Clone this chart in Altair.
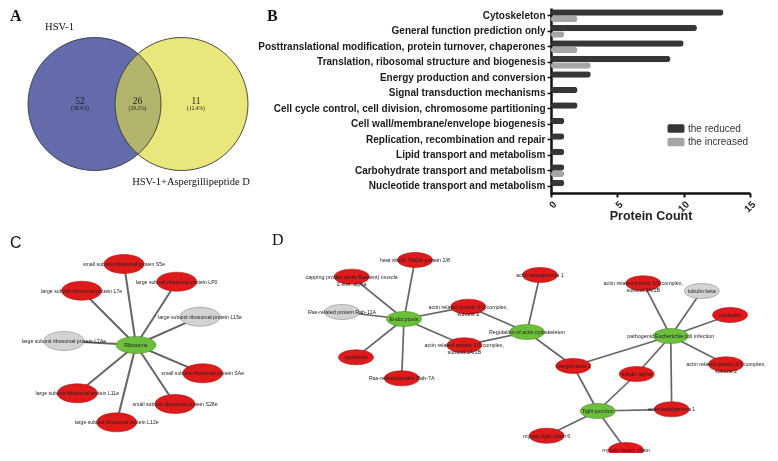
import altair as alt
import pandas as pd

# ================= DATA =================
# Panel A: Venn diagram
venn_sets = ["HSV-1", "HSV-1+Aspergillipeptide D"]
venn_counts = ["52", "26", "11"]
venn_pcts = ["(58.4%)", "(29.2%)", "(12.4%)"]

# Panel B: COG categories
cog_categories = [
    "Cytoskeleton",
    "General function prediction only",
    "Posttranslational modification, protein turnover, chaperones",
    "Translation, ribosomal structure and biogenesis",
    "Energy production and conversion",
    "Signal transduction mechanisms",
    "Cell cycle control, cell division, chromosome partitioning",
    "Cell wall/membrane/envelope biogenesis",
    "Replication, recombination and repair",
    "Lipid transport and metabolism",
    "Carbohydrate transport and metabolism",
    "Nucleotide transport and metabolism",
]
reduced_counts = [13, 11, 10, 9, 3, 2, 2, 1, 1, 1, 1, 1]
increased_counts = [2, 1, 2, 3, 0, 0, 0, 0, 0, 0, 1, 0]
series_names = ["the reduced", "the increased"]
count_ticks = [0, 5, 10, 15]

# Panel C: ribosome network
c_names = [
    "Ribosome",
    "small subunit ribosomal protein S5e",
    "large subunit ribosomal protein LP0",
    "large subunit ribosomal protein L7e",
    "large subunit ribosomal protein L15e",
    "large subunit ribosomal protein L7Ae",
    "small subunit ribosomal protein SAe",
    "large subunit ribosomal protein L11e",
    "small subunit ribosomal protein S28e",
    "large subunit ribosomal protein L12e",
]
c_kind = ["pathway", "reduced", "reduced", "reduced", "increased", "increased",
          "reduced", "reduced", "reduced", "reduced"]
c_edges = [(0, 1), (0, 2), (0, 3), (0, 4), (0, 5), (0, 6), (0, 7), (0, 8), (0, 9)]

# Panel D: pathway network
d_names = [
    "Endocytosis",
    "heat shock 70kDa protein 1/8",
    "capping protein (actin filament) muscle\nZ-line, alpha",
    "Ras-related protein Rab-11A",
    "actin related protein 2/3 complex,\nsubunit 2",
    "actin related protein 2/3 complex,\nsubunit 1A/1B",
    "cytohesin",
    "Ras-related protein Rab-7A",
    "Regulation of actin cytoskeleton",
    "actin beta/gamma 1",
    "actin related protein 2/3 complex,\nsubunit 1A/1B",
    "tubulin beta",
    "nucleolin",
    "pathogenic Escherichia coli infection",
    "actin related protein 2/3 complex,\nsubunit 2",
    "integrin beta 1",
    "tubulin alpha",
    "actin beta/gamma 1",
    "Tight junction",
    "myosin light chain 6",
    "myosin heavy chain",
]
d_kind = ["pathway", "reduced", "reduced", "increased", "reduced", "reduced", "reduced",
          "reduced", "pathway", "reduced", "reduced", "increased", "reduced", "pathway",
          "reduced", "reduced", "reduced", "reduced", "pathway", "reduced", "reduced"]
d_edges = [(0, 1), (0, 2), (0, 3), (0, 4), (0, 5), (0, 6), (0, 7),
           (8, 4), (8, 5), (8, 9), (8, 15),
           (13, 10), (13, 11), (13, 12), (13, 14), (13, 15), (13, 16), (13, 17),
           (18, 15), (18, 16), (18, 17), (18, 19), (18, 20)]

# ================= LAYOUT (reference pixel positions) =================
venn_cx = [94.5, 181.5]
venn_cy = [104, 104]
venn_diam = 133
venn_set_label_x = [59.5, 191]
venn_set_label_y = [27, 182]
venn_region_x = [80, 137.5, 196]
venn_count_y = 100.5
venn_pct_y = 108

c_x = [136, 124, 176.7, 81.7, 200, 64, 202.7, 77.3, 175, 116.7]
c_y = [345, 264, 281.7, 290.7, 316.7, 341, 373.3, 393.3, 404, 422.3]

d_x = [404, 415, 351.7, 342, 468.3, 464.3, 356, 401.7, 527, 540, 643.3, 701.7, 730,
       670.7, 726, 573.3, 636.7, 671.7, 597.7, 546.7, 626]
d_y = [319, 260, 276.7, 312, 306.7, 345.3, 357.3, 378.3, 332, 275, 283.3, 291, 315,
       336, 364.3, 366, 374, 409.3, 411, 435.7, 450]

panel_letters = ["A", "B", "C", "D"]
panel_letter_x = [10, 267, 10, 272]
panel_letter_y = [16, 16, 243, 240]
panel_letter_font = ["Liberation Serif", "Liberation Serif", "Liberation Sans", "Liberation Serif"]

bar_axis_x0, bar_axis_x1 = 551, 750   # x positions of 0 and 15
bar_axis_top, bar_axis_bottom = 8, 193
legend_swatch_x = 676
legend_text_x = 688
legend_y = [128.5, 142]

# ================= STYLE =================
W, H = 762, 445
OX, OY = 8, 8
XS = alt.Scale(domain=[OX, OX + W], range=[0, W], nice=False, zero=False)
YS = alt.Scale(domain=[OY, OY + H], range=[0, H], nice=False, zero=False)

BLUE = "#636bab"
YELLOW = "#e8e67b"
RED = "#de1a1a"
GREEN = "#6cbf3a"
GREY = "#d3d3d3"
DARK_BAR = "#363636"
LIGHT_BAR = "#a6a6a6"
KIND_FILL = {"pathway": GREEN, "reduced": RED, "increased": GREY}
KIND_STROKE = {"pathway": "#4d8f2a", "reduced": "#a81515", "increased": "#8a8a8a"}


def ellipse(ry):
    k = 0.5523
    return (f"M-1,0C-1,{-ry*k:.3f} {-k:.3f},{-ry} 0,{-ry}"
            f"C{k:.3f},{-ry} 1,{-ry*k:.3f} 1,0"
            f"C1,{ry*k:.3f} {k:.3f},{ry} 0,{ry}"
            f"C{-k:.3f},{ry} -1,{ry*k:.3f} -1,0Z")


def X(f="x"):
    return alt.X(f"{f}:Q", scale=XS, axis=None)


def Y(f="y"):
    return alt.Y(f"{f}:Q", scale=YS, axis=None)


layers = []

# ---------- Panel A ----------
circ = pd.DataFrame({"set": venn_sets, "x": venn_cx, "y": venn_cy, "fill": [BLUE, YELLOW]})
csize = venn_diam ** 2
layers.append(
    alt.Chart(circ.iloc[[0]]).mark_point(shape="circle", filled=True, opacity=1,
                                          size=csize, strokeWidth=0)
    .encode(x=X(), y=Y(), fill=alt.Fill("fill:N", scale=None))
)
layers.append(
    alt.Chart(circ.iloc[[1]]).mark_point(shape="circle", filled=True, opacity=1,
                                          size=csize, strokeWidth=0, blend="multiply")
    .encode(x=X(), y=Y(), fill=alt.Fill("fill:N", scale=None))
)
layers.append(
    alt.Chart(circ.iloc[[1]]).mark_point(shape="circle", filled=True, opacity=0.62,
                                          size=csize, strokeWidth=0)
    .encode(x=X(), y=Y(), fill=alt.Fill("fill:N", scale=None))
)
layers.append(
    alt.Chart(circ).mark_point(shape="circle", filled=False, opacity=1, size=csize,
                               color="#3a3a3a", strokeWidth=0.9)
    .encode(x=X(), y=Y())
)
set_lbl = pd.DataFrame({"t": venn_sets, "x": venn_set_label_x, "y": venn_set_label_y})
layers.append(
    alt.Chart(set_lbl).mark_text(font="Liberation Serif", fontSize=10.5, color="#111")
    .encode(x=X(), y=Y(), text="t:N")
)
reg = pd.DataFrame({"c": venn_counts, "p": venn_pcts, "x": venn_region_x,
                    "yc": [venn_count_y] * 3, "yp": [venn_pct_y] * 3})
layers.append(
    alt.Chart(reg).mark_text(font="Liberation Serif", fontSize=9.5, color="#222")
    .encode(x=X(), y=Y("yc"), text="c:N")
)
layers.append(
    alt.Chart(reg).mark_text(font="Liberation Serif", fontSize=5.5, color="#222")
    .encode(x=X(), y=Y("yp"), text="p:N")
)

# ---------- Panel letters ----------
for t, x, y, f in zip(panel_letters, panel_letter_x, panel_letter_y, panel_letter_font):
    layers.append(
        alt.Chart(pd.DataFrame({"t": [t], "x": [x], "y": [y]}))
        .mark_text(font=f, fontSize=16, fontWeight="bold" if t in "AB" else "normal",
                   align="left", color="#111")
        .encode(x=X(), y=Y(), text="t:N")
    )

# ---------- Legend for Panel B (manual) ----------
leg = pd.DataFrame({"s": series_names, "x": [legend_swatch_x] * 2, "tx": [legend_text_x] * 2,
                    "y": legend_y, "fill": [DARK_BAR, LIGHT_BAR]})
rrect = ("M-0.78,-0.5H0.78C0.92,-0.5 1,-0.4 1,-0.28V0.28C1,0.4 0.92,0.5 0.78,0.5"
         "H-0.78C-0.92,0.5 -1,0.4 -1,0.28V-0.28C-1,-0.4 -0.92,-0.5 -0.78,-0.5Z")
layers.append(
    alt.Chart(leg).mark_point(shape=rrect, filled=True, opacity=1, size=17 ** 2, strokeWidth=0)
    .encode(x=X(), y=Y(), fill=alt.Fill("fill:N", scale=None))
)
layers.append(
    alt.Chart(leg).mark_text(font="Liberation Sans", fontSize=10, align="left", color="#333")
    .encode(x=X("tx"), y=Y(), text="s:N")
)


# ---------- Networks C and D ----------
def network(names, kinds, xs, ys, edges, ry, size, green_ry, font_size, edge_w):
    nodes = pd.DataFrame({"name": names, "kind": kinds, "x": xs, "y": ys})
    nodes["fill"] = nodes["kind"].map(KIND_FILL)
    nodes["stroke"] = nodes["kind"].map(KIND_STROKE)
    nodes["shape"] = [ellipse(green_ry if k == "pathway" else ry) for k in kinds]
    e = pd.DataFrame({
        "x": [xs[a] for a, b in edges], "y": [ys[a] for a, b in edges],
        "x2": [xs[b] for a, b in edges], "y2": [ys[b] for a, b in edges],
    })
    out = [
        alt.Chart(e).mark_rule(color="#666666", strokeWidth=edge_w)
        .encode(x=X(), y=Y(), x2=alt.X2("x2:Q"), y2=alt.Y2("y2:Q")),
        alt.Chart(nodes).mark_point(filled=True, opacity=1, size=size, strokeWidth=0.6)
        .encode(x=X(), y=Y(), fill=alt.Fill("fill:N", scale=None),
                stroke=alt.Stroke("stroke:N", scale=None),
                shape=alt.Shape("shape:N", scale=None)),
        alt.Chart(nodes).mark_text(font="Liberation Sans", fontSize=font_size, color="#222",
                                   lineBreak="\n", lineHeight=font_size + 1.8)
        .encode(x=X(), y=Y(), text="name:N"),
    ]
    return out


layers += network(c_names, c_kind, c_x, c_y, c_edges, ry=0.475, size=40 ** 2,
                  green_ry=0.425, font_size=5.2, edge_w=2.0)
layers += network(d_names, d_kind, d_x, d_y, d_edges, ry=0.43, size=35 ** 2,
                  green_ry=0.43, font_size=5.4, edge_w=1.7)

pixel_layer = alt.layer(*layers)

# ---------- Panel B bar chart ----------
rows = []
for cat, r, i in zip(cog_categories, reduced_counts, increased_counts):
    rows.append({"category": cat, "series": series_names[0], "count": r})
    rows.append({"category": cat, "series": series_names[1], "count": i})
bar_df = pd.DataFrame(rows)

bars = alt.Chart(bar_df).mark_bar(cornerRadius=3).encode(
    x=alt.X(
        "count:Q",
        scale=alt.Scale(domain=[0, 15], range=[bar_axis_x0 - OX, bar_axis_x1 - OX], nice=False),
        axis=alt.Axis(
            orient="bottom", offset=-(H - (bar_axis_bottom - OY)), values=count_ticks,
            labelAngle=-45, labelFont="Liberation Sans", labelFontWeight="bold",
            labelFontSize=10, labelColor="#222", tickSize=4, tickWidth=2, tickColor="#111",
            domainColor="#111", domainWidth=2.5, grid=False,
            titleFont="Liberation Sans", titleFontSize=12.5, titleFontWeight="bold",
            titleColor="#222", titleY=16, titleBaseline="top",
        ),
        title="Protein Count",
    ),
    y=alt.Y(
        "category:N", sort=cog_categories,
        scale=alt.Scale(range=[bar_axis_top - OY, bar_axis_bottom + 1 - OY],
                        paddingInner=0.15, paddingOuter=0.075),
        axis=alt.Axis(
            orient="left", offset=-(bar_axis_x0 - OX), labelLimit=500,
            labelFont="Liberation Sans", labelFontWeight="bold", labelFontSize=10,
            labelColor="#1a1a1a", labelPadding=2, tickSize=4, tickWidth=1.5,
            tickColor="#111", domainColor="#111", domainWidth=2.5, grid=False,
        ),
        title=None,
    ),
    yOffset=alt.YOffset("series:N", sort=series_names,
                        scale=alt.Scale(paddingInner=0, paddingOuter=0)),
    color=alt.Color("series:N", scale=alt.Scale(domain=series_names, range=[DARK_BAR, LIGHT_BAR]),
                    legend=None),
)

chart = (
    alt.layer(pixel_layer, bars)
    .resolve_scale(x="independent", y="independent", color="independent",
                   fill="independent", stroke="independent", shape="independent")
    .properties(width=W, height=H, autosize=alt.AutoSizeParams(type="none"), padding=0,
                background="white")
    .configure_view(strokeWidth=0)
)

chart.save("out.html", embed_options={"renderer": "svg", "actions": False})
